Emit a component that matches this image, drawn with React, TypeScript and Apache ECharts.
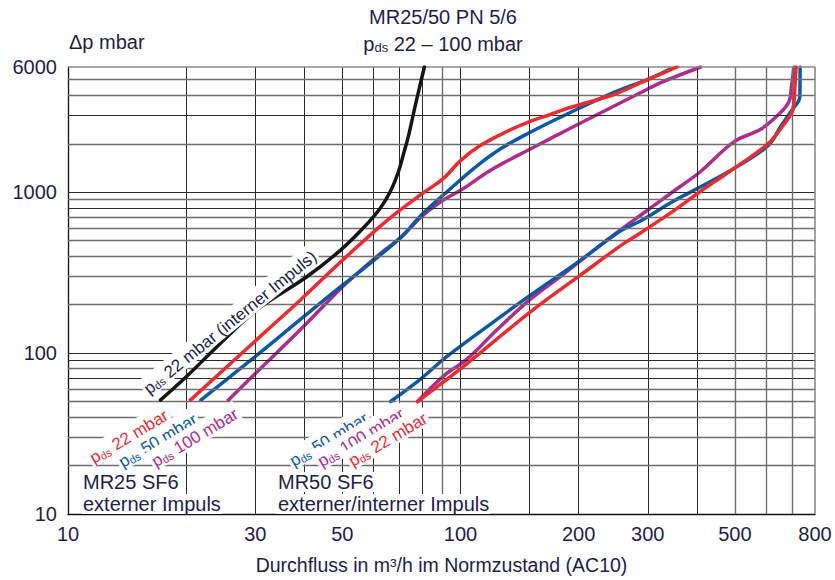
import React, { useEffect, useRef } from "react";
import * as echarts from "echarts";

// ---------- data ----------
const xTickLabels = [10, 30, 50, 100, 200, 300, 500, 800];
const yTickLabels = [10, 100, 1000, 6000];
const xGridDark = [20, 30, 40, 50, 60, 70, 80, 100, 150, 200, 300, 400];
const xGridGray = [90, 500, 600, 700];
const yGridDark = [100, 90, 70, 1000, 800, 3000];
const yGridGray = [20, 30, 40, 50, 60, 80, 200, 300, 400, 500, 600, 700, 900, 2000, 4000, 5000];

// MR25 SF6, pds 22 mbar, interner Impuls (black)
const mr25Intern22 = [
  [17.2, 51], [20.1, 72], [24.0, 110], [30.3, 186], [40.5, 297], [49.4, 435],
  [56.6, 601], [62.5, 798], [66.3, 1014], [69.5, 1345], [71.6, 1735], [73.7, 2238],
  [76.3, 3276], [78.6, 4470], [80.9, 6000],
];
// MR25 SF6 externer Impuls
const mr25Pds22 = [
  [20.5, 51], [30.9, 127], [39.1, 214], [49.4, 367], [64.8, 664], [79.5, 972],
  [90.5, 1219], [100, 1571], [112, 1942], [132, 2400], [151, 2765], [170, 3052],
  [191, 3372], [246, 4049], [288, 4797], [356, 6000],
];
const mr25Pds50 = [
  [21.8, 51], [30.9, 101], [39.1, 162], [49.4, 258], [55.6, 323], [70.3, 522],
  [79.5, 722], [92.7, 1014], [108, 1403], [126.5, 1862], [151, 2367], [191, 3139],
  [246, 4170], [303, 5080], [343, 5850],
];
const mr25Pds100 = [
  [25.6, 51], [30.9, 80], [39.1, 140], [49.4, 250], [55.6, 326], [64.4, 441],
  [70.3, 520], [79.5, 705], [88.9, 870], [102, 1058], [119, 1364], [151, 1862],
  [191, 2505], [288, 4165], [324, 4797], [409, 6000],
];
// MR50 SF6 externer/interner Impuls
const mr50Pds22 = [
  [77.7, 50], [102, 83], [151, 181], [202, 305], [256, 466], [288, 560],
  [349, 765], [409, 1014], [497, 1403], [607, 2000], [667, 2650], [703, 3276],
  [711, 4534], [716, 6000],
];
const mr50Pds50 = [
  [66.3, 50], [79.1, 69], [92.7, 96], [119, 151], [151, 230], [202, 377],
  [256, 576], [288, 664], [349, 881], [409, 1080], [497, 1403], [607, 1942],
  [655, 2577], [695, 3187], [732, 3936], [733, 6000],
];
const mr50Pds100 = [
  [77.7, 50], [90.5, 72], [104, 92], [124, 140], [151, 217], [183, 310],
  [228, 473], [288, 722], [349, 1014], [409, 1345], [497, 2055], [583, 2470],
  [655, 3139], [687, 3666], [697, 4534], [707, 6000],
];

// ---------- styles ----------
const RED = "#ee2a2f";
const BLUE = "#0b5aa8";
const PURPLE = "#b12a8f";
const BLACK = "#151515";
const NAVY = "#1d1d4d";
const FONT = "Liberation Sans";

function pdsRich(color: string, size: number, sub: number) {
  return {
    p: { fontSize: size, fill: color, fontFamily: FONT, lineHeight: size + 4, verticalAlign: "bottom" },
    s: { fontSize: sub, fill: color, fontFamily: FONT, lineHeight: 8, verticalAlign: "bottom" },
    t: { fontSize: size, fill: color, fontFamily: FONT, lineHeight: size + 4, verticalAlign: "bottom" },
  };
}

function rotLabel(text: string, color: string, x: number, y: number, deg: number) {
  return {
    type: "text",
    x,
    y,
    rotation: (deg * Math.PI) / 180,
    z: 50,
    style: {
      text: "{p|p}{s|ds}{t| " + text + "}",
      rich: pdsRich(color, 17, 11),
      align: "center",
      verticalAlign: "middle",
      backgroundColor: "#fff",
      padding: [0, 2],
    },
  };
}

function plainText(text: string, x: number, y: number, align = "left", bg = false) {
  return {
    type: "text",
    x,
    y,
    z: 50,
    style: {
      text,
      fill: NAVY,
      fontSize: 20,
      fontFamily: FONT,
      align,
      verticalAlign: "middle",
      backgroundColor: bg ? "#fff" : undefined,
      padding: bg ? [0, 1] : 0,
    },
  };
}

function gridSeries(name: string, xs: number[], ys: number[], color: string, width: number) {
  return {
    name,
    type: "line",
    data: [[10, 10]],
    symbol: "none",
    lineStyle: { opacity: 0 },
    silent: true,
    z: 1,
    markLine: {
      silent: true,
      symbol: ["none", "none"],
      label: { show: false },
      lineStyle: { color, width, type: "solid" },
      emphasis: { disabled: true },
      data: [...xs.map((v) => ({ xAxis: v })), ...ys.map((v) => ({ yAxis: v }))],
    },
  };
}

function curve(name: string, data: number[][], color: string, z: number) {
  return {
    name,
    type: "line",
    data,
    symbol: "none",
    smooth: 0.38,
    z,
    lineStyle: { color, width: 3.5, cap: "round", join: "round" },
  };
}

export default function App() {
  const ref = useRef<HTMLDivElement>(null);
  useEffect(() => {
    document.body.style.margin = "0";
    const chart = echarts.init(ref.current!, null, { renderer: "svg" });
    const option = {
      animation: false,
      backgroundColor: "#fff",
      textStyle: { fontFamily: FONT },
      grid: { left: 68, right: 20, top: 67, bottom: 60 },
      xAxis: {
        type: "log",
        logBase: 10,
        min: 10,
        max: 800,
        name: "Durchfluss in m³/h im Normzustand (AC10)",
        nameLocation: "middle",
        nameGap: 41,
        nameTextStyle: { color: NAVY, fontSize: 19.5, fontFamily: FONT },
        axisLine: { show: true, lineStyle: { color: "#111", width: 1.3 } },
        axisTick: { show: false },
        splitLine: { show: false },
        minorTick: { show: false },
        minorSplitLine: { show: false },
        axisLabel: {
          customValues: xTickLabels,
          color: NAVY,
          fontSize: 20,
          fontFamily: FONT,
          margin: 10,
          formatter: (v: number) => String(Math.round(v)),
        },
      },
      yAxis: {
        type: "log",
        logBase: 10,
        min: 10,
        max: 6000,
        axisLine: { show: true, lineStyle: { color: "#111", width: 1.3 } },
        axisTick: { show: false },
        splitLine: { show: false },
        minorTick: { show: false },
        minorSplitLine: { show: false },
        axisLabel: {
          customValues: yTickLabels,
          color: NAVY,
          fontSize: 20,
          fontFamily: FONT,
          margin: 11,
          formatter: (v: number) => String(Math.round(v)),
        },
      },
      series: [
        gridSeries("gridDark", xGridDark, yGridDark, "#2a2a2a", 1),
        gridSeries("gridGray", xGridGray, yGridGray, "#6e6e6e", 1.4),
        gridSeries("border", [800], [6000], "#8a8a8a", 1.6),
        curve("MR50 pds 100", mr50Pds100, PURPLE, 3),
        curve("MR50 pds 50", mr50Pds50, BLUE, 4),
        curve("MR50 pds 22", mr50Pds22, RED, 5),
        curve("MR25 pds 100", mr25Pds100, PURPLE, 3),
        curve("MR25 pds 50", mr25Pds50, BLUE, 4),
        curve("MR25 pds 22", mr25Pds22, RED, 5),
        curve("MR25 intern pds 22", mr25Intern22, BLACK, 6),
      ],
      graphic: [
        plainText("MR25/50 PN 5/6", 443, 17, "center"),
        {
          type: "text",
          x: 443,
          y: 42,
          z: 50,
          style: {
            text: "{p|p}{s|ds}{t| 22 – 100 mbar}",
            rich: pdsRich(NAVY, 20, 13),
            align: "center",
            verticalAlign: "middle",
          },
        },
        plainText("Δp mbar", 69, 42, "left"),
        plainText("MR25 SF6", 82, 482, "left", true),
        plainText("externer Impuls", 82, 504, "left", true),
        plainText("MR50 SF6", 277, 482, "left", true),
        plainText("externer/interner Impuls", 277, 504, "left", true),
        {
          type: "text",
          x: 229,
          y: 321,
          rotation: (39 * Math.PI) / 180,
          z: 50,
          style: {
            text: "{p|p}{s|ds}{t| 22 mbar (interner Impuls)}",
            rich: pdsRich(NAVY, 17, 11),
            align: "center",
            verticalAlign: "middle",
            backgroundColor: "#fff",
            padding: [0, 2],
          },
        },
        rotLabel("22 mbar", RED, 128, 435, 31),
        rotLabel("50 mbar", BLUE, 157, 439, 31),
        rotLabel("100 mbar", PURPLE, 194, 436, 31),
        rotLabel("50 mbar", BLUE, 328, 438, 31),
        rotLabel("100 mbar", PURPLE, 360, 436, 31),
        rotLabel("22 mbar", RED, 387, 438, 31),
      ],
    };
    chart.setOption(option as any);
    return () => chart.dispose();
  }, []);
  return <div ref={ref} style={{ width: 835, height: 580 }} />;
}
